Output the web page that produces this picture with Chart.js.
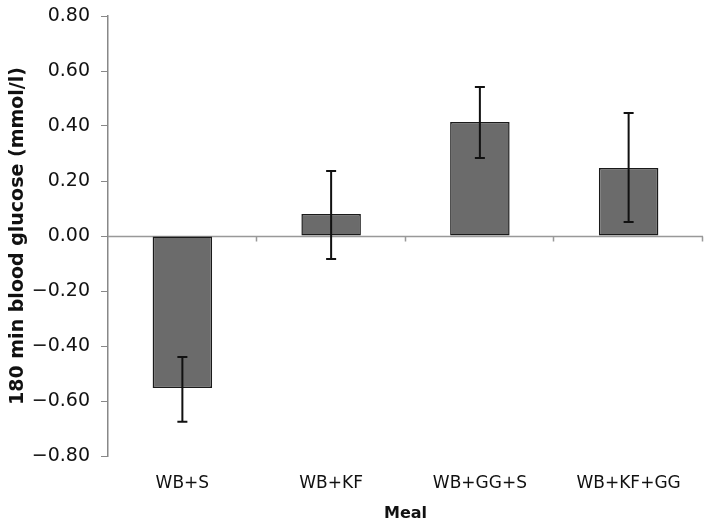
<!DOCTYPE html>
<html>
<head>
<meta charset="utf-8">
<script src="https://cdn.jsdelivr.net/npm/chart.js@4"></script>
<style>
html,body{margin:0;padding:0;background:#fff;}
#wrap{width:709px;height:528px;}
</style>
</head>
<body>
<div id="wrap"><canvas id="c" width="709" height="528"></canvas></div>
<script>
const categories = ['WB+S', 'WB+KF', 'WB+GG+S', 'WB+KF+GG'];
const means = [-0.553, 0.080, 0.415, 0.247];
const errUpper = [-0.440, 0.236, 0.542, 0.447];
const errLower = [-0.675, -0.084, 0.284, 0.051];
const yTitle = '180 min blood glucose (mmol/l)';
const xTitle = 'Meal';

const FONT = 'DejaVu Sans';

const errorBars = {
  id: 'errorBars',
  afterDatasetsDraw(chart) {
    const {ctx, scales: {x, y}} = chart;
    ctx.save();
    ctx.strokeStyle = '#111';
    ctx.lineWidth = 2;
    for (let i = 0; i < categories.length; i++) {
      const px = x.getPixelForValue(i);
      const t = y.getPixelForValue(errUpper[i]);
      const b = y.getPixelForValue(errLower[i]);
      ctx.beginPath();
      ctx.moveTo(px, t); ctx.lineTo(px, b);
      ctx.moveTo(px - 5, t); ctx.lineTo(px + 5, t);
      ctx.moveTo(px - 5, b); ctx.lineTo(px + 5, b);
      ctx.stroke();
    }
    ctx.restore();
  }
};

const zeroLine = {
  id: 'zeroLine',
  beforeDatasetsDraw(chart) {
    const {ctx, chartArea, scales: {x, y}} = chart;
    const y0 = Math.round(y.getPixelForValue(0)) + 0.5;
    const step = x.getPixelForValue(1) - x.getPixelForValue(0);
    ctx.save();
    ctx.strokeStyle = '#999';
    ctx.lineWidth = 1.5;
    ctx.beginPath();
    ctx.moveTo(chartArea.left, y0);
    ctx.lineTo(chartArea.right, y0);
    for (let i = 0; i < categories.length; i++) {
      const px = Math.round(x.getPixelForValue(i) + step / 2) - 0.5;
      ctx.moveTo(px, y0);
      ctx.lineTo(px, y0 + 5);
    }
    ctx.stroke();
    ctx.restore();
  }
};

new Chart(document.getElementById('c'), {
  type: 'bar',
  data: {
    labels: categories,
    datasets: [{
      data: means,
      backgroundColor: '#6b6b6b',
      borderColor: '#1a1a1a',
      borderWidth: 1.5,
      borderSkipped: false,
      barPercentage: 0.4,
      categoryPercentage: 1.0
    }]
  },
  options: {
    responsive: false,
    animation: false,
    devicePixelRatio: 1,
    layout: {padding: {top: 16, right: 6, left: 3, bottom: 5}},
    plugins: {legend: {display: false}, tooltip: {enabled: false}},
    scales: {
      x: {
        grid: {display: false, drawTicks: false},
        border: {display: false},
        ticks: {color: '#111', font: {family: FONT, size: 17}, padding: 17},
        title: {display: true, text: xTitle, color: '#111', font: {family: FONT, size: 16, weight: 'bold'}, padding: {top: 10, bottom: 0}},
        afterFit(scale) { scale.height = 67; }
      },
      y: {
        min: -0.8, max: 0.8,
        grid: {drawOnChartArea: false, drawTicks: true, tickLength: 7, color: '#888'},
        border: {display: true, color: '#888', width: 1.5},
        ticks: {
          stepSize: 0.2,
          color: '#111',
          font: {family: FONT, size: 19},
          padding: 11,
          callback: v => { const s = Math.abs(v).toFixed(2); return (v < -1e-9 ? '\u2212' : '') + s; }
        },
        title: {display: true, text: yTitle, color: '#111', font: {family: FONT, size: 19, weight: 'bold'}, padding: {top: 4, bottom: 2}},
        afterFit(scale) { scale.width = 105; scale.paddingTop = 0; scale.paddingBottom = 0; }
      }
    }
  },
  plugins: [zeroLine, errorBars]
});
</script>
</body>
</html>
